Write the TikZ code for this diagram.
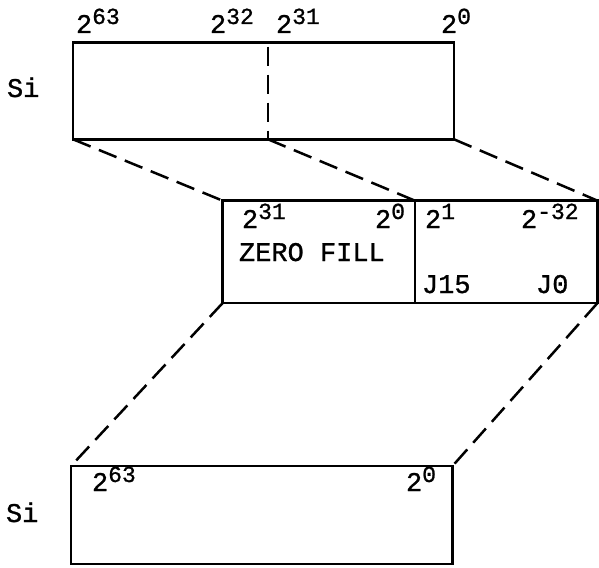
\documentclass[tikz,border=0pt]{standalone}
\usepackage{fontspec}
\setmainfont{Liberation Mono}[FakeBold=1]
\newcommand{\pw}[2]{{\fontsize{27}{27}\selectfont #1\raisebox{9pt}{\fontsize{23}{23}\selectfont #2}}}
\newcommand{\tx}[1]{{\fontsize{27}{27}\selectfont #1}}
\tikzset{
  reg/.style={draw, line width=2.5pt, rectangle, outer sep=0pt, inner sep=0pt},
  conn/.style={line width=2.5pt, dash pattern=on 19pt off 9pt},
  lbl/.style={anchor=base west, inner sep=0pt, outer sep=0pt},
}
\begin{document}
\begin{tikzpicture}[x=1pt,y=-1pt]
\useasboundingbox (0,0) rectangle (599,567);
% boxes
\node[reg, minimum width=381pt, minimum height=96.6pt] (top) at (263.5,91) {};
\node[reg, minimum width=192.3pt, minimum height=102.3pt] (midL) at (318.85,251.85) {};
\node[reg, minimum width=182.5pt, minimum height=102.3pt] (midR) at (506.25,251.85) {};
\node[reg, minimum width=381.5pt, minimum height=98pt] (bot) at (261.75,515) {};
% dashed divider in top box
\coordinate (dtop) at (268,42.7);
\coordinate (dbot) at (268,139.3);
\draw[conn, dash phase=-4pt] (dtop) -- (dbot);
% connectors
\draw[conn] (top.south west) -- (midL.north west);
\draw[conn] (dbot) -- (midL.north east);
\draw[conn] (top.south east) -- (midR.north east);
\draw[conn] (midL.south west) -- (bot.north west);
\draw[conn] (midR.south east) -- (bot.north east);
% labels top
\node[lbl] (t63) at (76,33) {\pw{2}{63}};
\node[lbl] (t32) at (210,33) {\pw{2}{32}};
\node[lbl] (t31) at (276,33) {\pw{2}{31}};
\node[lbl] (t0) at (441,33) {\pw{2}{0}};
\node[lbl] (si1) at (7,97) {\tx{Si}};
% labels middle
\node[lbl] (m31) at (242,228) {\pw{2}{31}};
\node[lbl] (m0) at (375,228) {\pw{2}{0}};
\node[lbl] (zf) at (239,261) {\tx{ZERO FILL}};
\node[lbl] (m1) at (425,228) {\pw{2}{1}};
\node[lbl] (mm32) at (521,228) {\pw{2}{-32}};
\node[lbl] (j15) at (422,293) {\tx{J15}};
\node[lbl] (j0) at (536,293) {\tx{J0}};
% labels bottom
\node[lbl] (b63) at (92,491) {\pw{2}{63}};
\node[lbl] (b0) at (406,491) {\pw{2}{0}};
\node[lbl] (si2) at (6,522) {\tx{Si}};
\end{tikzpicture}
\end{document}
